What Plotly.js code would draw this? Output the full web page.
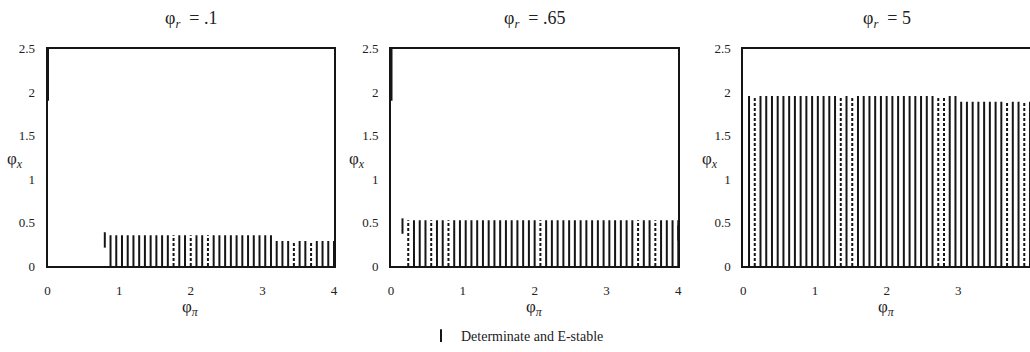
<!DOCTYPE html>
<html><head><meta charset="utf-8">
<script src="https://cdn.plot.ly/plotly-3.0.1.min.js"></script>
<style>html,body{margin:0;padding:0;background:#fff}</style>
</head><body><div id="chart" style="width:1030px;height:352px"></div>
<script>
// ---- data ----
const panelTitles = ["φ<sub><i>r</i></sub>  = .1", "φ<sub><i>r</i></sub>  = .65", "φ<sub><i>r</i></sub>  = 5"];
const xTickVals = [0, 1, 2, 3, 4];
const yTickVals = [0, 0.5, 1, 1.5, 2, 2.5];
const yTickText = ["0", "0.5", "1", "1.5", "2", "2.5"];
const legendName = "Determinate and E-stable";

// panel 1 (phi_r = .1): phi_pi grid columns and upper bound of phi_x
const phiPi1 = [0.88,0.96,1.04,1.12,1.20,1.28,1.36,1.44,1.52,1.60,1.68,1.76,1.84,1.92,2.00,2.08,2.16,2.24,2.32,2.40,2.48,2.56,2.64,2.72,2.80,2.88,2.96,3.04,3.12,3.20,3.28,3.36,3.44,3.52,3.60,3.68,3.76,3.84,3.92,4.00];
const phiX1 = [0.355,0.355,0.355,0.355,0.355,0.355,0.355,0.355,0.355,0.355,0.355,0.355,0.355,0.355,0.355,0.355,0.355,0.355,0.355,0.355,0.355,0.355,0.355,0.355,0.355,0.355,0.355,0.355,0.355,0.287,0.287,0.287,0.287,0.287,0.287,0.287,0.287,0.287,0.287,0.287];
const sparse1 = [1.76, 2.00, 2.24, 3.44, 3.68];
const markX1 = [0.80];
const markY1 = [0.30];

// panel 2 (phi_r = .65)
const phiPi2 = [0.24,0.32,0.40,0.48,0.56,0.64,0.72,0.80,0.88,0.96,1.04,1.12,1.20,1.28,1.36,1.44,1.52,1.60,1.68,1.76,1.84,1.92,2.00,2.08,2.16,2.24,2.32,2.40,2.48,2.56,2.64,2.72,2.80,2.88,2.96,3.04,3.12,3.20,3.28,3.36,3.44,3.52,3.60,3.68,3.76,3.84,3.92,4.00];
const phiX2 = [0.527,0.527,0.527,0.527,0.527,0.527,0.527,0.527,0.527,0.527,0.527,0.527,0.527,0.527,0.527,0.527,0.527,0.527,0.527,0.527,0.527,0.527,0.527,0.527,0.527,0.527,0.527,0.527,0.527,0.527,0.527,0.527,0.527,0.527,0.527,0.527,0.527,0.527,0.527,0.527,0.527,0.527,0.527,0.527,0.527,0.527,0.527,0.527];
const sparse2 = [0.24, 0.56, 0.80, 2.08, 3.44, 3.68];
const markX2 = [0.16, 4.00];
const markY2 = [0.46, 0.38];

// panel 3 (phi_r = 5)
const phiPi3 = [0.08,0.16,0.24,0.32,0.40,0.48,0.56,0.64,0.72,0.80,0.88,0.96,1.04,1.12,1.20,1.28,1.36,1.44,1.52,1.60,1.68,1.76,1.84,1.92,2.00,2.08,2.16,2.24,2.32,2.40,2.48,2.56,2.64,2.72,2.80,2.88,2.96,3.04,3.12,3.20,3.28,3.36,3.44,3.52,3.60,3.68,3.76,3.84,3.92,4.00];
const phiX3 = [1.957,1.957,1.957,1.957,1.957,1.957,1.957,1.957,1.957,1.957,1.957,1.957,1.957,1.957,1.957,1.957,1.957,1.957,1.957,1.957,1.957,1.957,1.957,1.957,1.957,1.957,1.957,1.957,1.957,1.957,1.957,1.957,1.957,1.957,1.957,1.957,1.957,1.89,1.89,1.89,1.89,1.89,1.89,1.89,1.89,1.89,1.89,1.89,1.89,1.89];
const sparse3 = [0.16, 1.36, 1.52, 2.72, 2.80, 3.68, 3.92];
const markX3 = [];
const markY3 = [];

// upper segment at phi_pi = 0 (panels 1 and 2)
const edgeLow = [1.9, 1.9, null];
const edgeHigh = [2.5, 2.5, null];

// ---- build ----
const ink = "#151515";
const FONT = "Liberation Serif, Times New Roman, serif";
const panels = [
  {px: phiPi1, py: phiX1, sp: sparse1, mx: markX1, my: markY1},
  {px: phiPi2, py: phiX2, sp: sparse2, mx: markX2, my: markY2},
  {px: phiPi3, py: phiX3, sp: sparse3, mx: markX3, my: markY3}
];
const xDomains = [[47.5/1030, 334/1030], [391/1030, 678.3/1030], [743.3/1030, 1.0]];
const yDomain = [1 - 273/352, 1 - 50/352];

const traces = [];
const isSparse = (v, arr) => arr.some(a => Math.abs(a - v) < 1e-6);
panels.forEach((p, k) => {
  const xa = k === 0 ? "x" : "x" + (k + 1);
  const ya = k === 0 ? "y" : "y" + (k + 1);
  const sx = [], sy = [], dx = [], dy = [];
  p.px.forEach((v, i) => {
    if (isSparse(v, p.sp)) { dx.push(v, v, null); dy.push(0, p.py[i], null); }
    else { sx.push(v, v, null); sy.push(0, p.py[i], null); }
  });
  traces.push({type: "scatter", mode: "lines", x: sx, y: sy, xaxis: xa, yaxis: ya,
    line: {color: ink, width: 2}, showlegend: false, hoverinfo: "skip"});
  traces.push({type: "scatter", mode: "lines", x: dx, y: dy, xaxis: xa, yaxis: ya,
    line: {color: ink, width: 2, dash: "3px,2px"}, showlegend: false, hoverinfo: "skip"});
  if (p.mx.length) {
    traces.push({type: "scatter", mode: "markers", x: p.mx, y: p.my, xaxis: xa, yaxis: ya,
      marker: {symbol: "line-ns-open", size: 11, color: ink, line: {color: ink, width: 2}},
      showlegend: false, hoverinfo: "skip", cliponaxis: false});
  }
  if (edgeLow[k] != null) {
    traces.push({type: "scatter", mode: "lines", x: [0, 0], y: [edgeLow[k], edgeHigh[k]], xaxis: xa, yaxis: ya,
      line: {color: ink, width: 3}, showlegend: false, hoverinfo: "skip", cliponaxis: false});
  }
});
// legend entry
traces.push({type: "scatter", mode: "markers", x: [null], y: [null], name: legendName,
  marker: {symbol: "line-ns-open", size: 9, color: ink, line: {color: ink, width: 2}}, showlegend: true});

const layout = {
  width: 1030, height: 352,
  margin: {l: 0, r: 0, t: 0, b: 0},
  paper_bgcolor: "#fff", plot_bgcolor: "#fff",
  font: {family: FONT, color: "#222", size: 13},
  showlegend: true,
  legend: {orientation: "h", x: 421/1030, xanchor: "left", y: 1 - 345/352, yanchor: "middle",
    font: {family: FONT, size: 14, color: "#222"}, bgcolor: "rgba(0,0,0,0)"},
  annotations: []
};
for (let k = 0; k < 3; k++) {
  const s = k === 0 ? "" : String(k + 1);
  layout["xaxis" + s] = {domain: xDomains[k], anchor: "y" + s, range: [0, 4], tickvals: xTickVals,
    showgrid: false, zeroline: false, showline: true, mirror: true, linecolor: ink, linewidth: 2,
    ticks: "", ticklabelstandoff: 11, tickfont: {family: FONT, size: 13, color: "#222"}, automargin: false, fixedrange: true};
  layout["yaxis" + s] = {domain: yDomain, anchor: "x" + s, range: [0, 2.5], tickvals: yTickVals, ticktext: yTickText,
    showgrid: false, zeroline: false, showline: true, mirror: true, linecolor: ink, linewidth: 2,
    ticks: "", ticklabelstandoff: 8, tickfont: {family: FONT, size: 13, color: "#222"}, automargin: false, fixedrange: true};
  const cx = (xDomains[k][0] + xDomains[k][1]) / 2;
  layout.annotations.push({text: panelTitles[k], xref: "paper", yref: "paper", x: cx, y: 1 - 20/352,
    xanchor: "center", yanchor: "middle", showarrow: false, font: {family: FONT, size: 18, color: "#222"}});
  layout.annotations.push({text: "φ<sub><i>π</i></sub>", xref: "paper", yref: "paper", x: cx, y: 1 - 316/352,
    xanchor: "center", yanchor: "middle", showarrow: false, font: {family: FONT, size: 17, color: "#222"}});
  const yx = [15, 357, 710][k];
  layout.annotations.push({text: "φ<sub><i>x</i></sub>", xref: "paper", yref: "paper", x: yx/1030, y: 1 - 164/352,
    xanchor: "center", yanchor: "middle", showarrow: false, font: {family: FONT, size: 17, color: "#222"}});
}
Plotly.newPlot("chart", traces, layout, {displayModeBar: false, staticPlot: true});
</script></body></html>
